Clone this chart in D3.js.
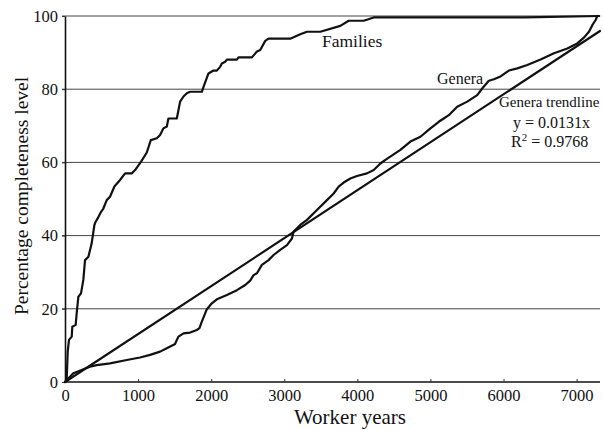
<!DOCTYPE html>
<html><head><meta charset="utf-8">
<script src="https://cdn.jsdelivr.net/npm/d3@7"></script>
<style>body{margin:0;background:#fff}svg{display:block}svg text{font-family:"Liberation Serif","Times New Roman",serif;fill:#111}</style>
</head><body><svg id="c" width="603" height="430"></svg>
<script>
const xTicks=[0,1000,2000,3000,4000,5000,6000,7000];
const yTicks=[0,20,40,60,80,100];
const familiesX=[0,23,37,55,92,100,146,160,183,219,251,274,320,365,402,420,447,493,525,571,616,676,753,822,913,959,1041,1119,1174,1256,1301,1347,1393,1415,1530,1575,1621,1667,1712,1872,1904,1963,2032,2078,2123,2146,2192,2215,2352,2374,2557,2626,2671,2740,2785,3082,3219,3311,3493,3767,3881,4087,4224,6300,7310];
const familiesY=[0,0.5,8.3,11.5,12.4,15.1,15.6,18.8,23.3,24.2,27.9,33.3,34.2,37.9,42.9,43.8,44.7,46.5,47.4,49.7,50.6,53.4,55.2,57.0,57.0,57.9,60.2,62.7,66.1,66.6,67.5,69.3,69.8,72.0,72.0,76.6,78.0,78.9,79.3,79.3,81.1,84.3,85.1,85.1,86.1,87.0,87.5,88.1,88.1,88.7,88.7,90.3,90.7,93.2,93.8,93.8,95.0,95.7,95.7,97.3,98.7,98.7,99.6,99.6,100];
const generaX=[0,114,228,342,434,616,845,1027,1164,1301,1393,1507,1530,1553,1621,1712,1804,1840,1872,1941,2009,2078,2215,2352,2466,2534,2580,2626,2694,2785,2854,2945,3037,3105,3128,3219,3311,3447,3584,3676,3744,3813,3904,3995,4132,4224,4315,4384,4589,4726,4863,5000,5114,5182,5251,5366,5503,5640,5708,5799,5868,5959,6073,6188,6325,6507,6690,6873,7009,7100,7169,7215,7260,7283];
const generaY=[0,2.4,3.3,4.2,4.6,5.1,6.0,6.7,7.4,8.3,9.2,10.4,11.5,12.4,13.3,13.5,14.2,14.7,16.5,19.9,21.5,22.6,23.8,25.1,26.5,27.7,29.2,29.7,32.0,33.3,34.7,36.1,37.4,39.2,41.1,42.9,44.3,47.0,49.7,51.5,53.4,54.5,55.6,56.3,57.0,57.9,59.7,60.7,63.4,65.7,67.0,69.3,71.1,72.0,72.9,75.2,76.6,78.4,80.2,82.3,82.7,83.5,85.1,85.7,86.6,88.1,89.8,91.1,92.5,94.1,95.7,97.5,98.9,100];
// Genera trendline y = 0.0131x
const trendX=[0,7320];
const trendY=[0,95.9];

const svg=d3.select("#c");
const x=d3.scaleLinear().domain([0,7320]).range([65,600]);
const y=d3.scaleLinear().domain([0,100]).range([382,16]);

// gridlines
svg.append("g").selectAll("line").data(yTicks.filter(d=>d>0)).join("line")
  .attr("x1",62).attr("x2",600).attr("y1",d=>y(d)).attr("y2",d=>y(d))
  .attr("stroke","#444").attr("stroke-width",1);

// axes
const xa=svg.append("g").attr("transform","translate(0,382)")
  .call(d3.axisBottom(x).tickValues(xTicks).tickFormat(d3.format("d")).tickSize(-3).tickPadding(7).tickSizeOuter(0));
const ya=svg.append("g").attr("transform","translate(65,0)")
  .call(d3.axisLeft(y).tickValues(yTicks).tickFormat(d3.format("d")).tickSize(3).tickPadding(4).tickSizeOuter(0));
[xa,ya].forEach(a=>{
  a.attr("font-family","Liberation Serif").attr("font-size",16.5);
  a.select(".domain").attr("stroke","#111").attr("stroke-width",1.6);
  a.selectAll(".tick line").attr("stroke","#333");
  a.selectAll("text").attr("fill","#111");
});
xa.select(".domain").attr("d","M65,0H600");

const line=(xs,ys)=>d3.line().x((d,i)=>x(xs[i])).y((d,i)=>y(ys[i]))(xs);
[[familiesX,familiesY],[generaX,generaY],[trendX,trendY]].forEach(([xs,ys])=>{
  svg.append("path").attr("d",line(xs,ys)).attr("fill","none").attr("stroke","#111")
    .attr("stroke-width",2.2).attr("stroke-linejoin","round").attr("stroke-linecap","round");
});

// labels
const t=(txt,xx,yy,fs,anchor)=>svg.append("text").attr("x",xx).attr("y",yy).attr("text-anchor",anchor||"start").style("font-size",fs+"px").text(txt);
t("Families",322,47,17.5);
t("Genera",437,84,16);
t("Genera trendline",499,107,15);
t("y = 0.0131x",513,128,16);
const r=t("R",511,147,16);
r.append("tspan").attr("dy",-6).style("font-size","11px").text("2");
r.append("tspan").attr("dy",6).text(" = 0.9768");
t("Worker years",350,424,21,"middle");
svg.append("text").attr("transform","translate(28,196) rotate(-90)").attr("text-anchor","middle").style("font-size","19.5px").text("Percentage completeness level");
</script></body></html>
